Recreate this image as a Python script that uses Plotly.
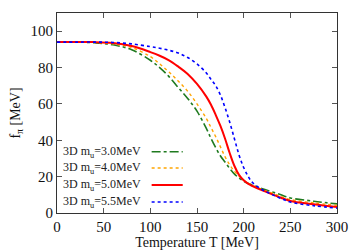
import plotly.graph_objects as go

T = [0, 20, 40, 60, 80, 100, 110, 120, 130, 140, 150, 160, 165, 170, 175, 180, 185, 190, 195, 200, 205, 210, 220, 230, 240, 250, 275, 300]

f_30 = [94, 94, 93.6, 92.5, 89.8, 84.0, 80.0, 75.0, 69.0, 63.0, 56.0, 46.5, 41.0, 36.0, 31.5, 28.0, 24.5, 21.5, 19.3, 17.5, 16.2, 15.3, 13.4, 11.7, 10.0, 8.3, 6.5, 5.0]
f_40 = [94, 94, 93.8, 93.0, 91.0, 86.0, 82.0, 77.5, 72.5, 67.0, 60.0, 52.0, 47.0, 42.0, 36.5, 31.0, 26.5, 23.0, 20.3, 18.0, 16.3, 15.0, 12.9, 11.0, 9.1, 7.4, 5.6, 4.2]
f_50 = [94, 94, 94.0, 93.5, 91.8, 88.5, 86.5, 84.0, 80.5, 76.5, 71.0, 64.0, 59.5, 54.0, 48.0, 41.0, 33.0, 26.0, 21.0, 18.0, 16.0, 14.7, 12.4, 10.4, 8.4, 6.6, 4.8, 3.3]
f_55 = [94, 94, 94.0, 93.8, 93.0, 91.5, 90.6, 89.5, 88.0, 85.5, 82.0, 77.0, 73.5, 70.0, 65.0, 58.0, 50.0, 41.0, 32.0, 25.0, 20.0, 16.5, 12.8, 10.2, 8.0, 6.0, 4.0, 2.7]

labels = ["3D m<sub>u</sub>=3.0MeV", "3D m<sub>u</sub>=4.0MeV", "3D m<sub>u</sub>=5.0MeV", "3D m<sub>u</sub>=5.5MeV"]
series = [f_30, f_40, f_50, f_55]
colors = ["#1f7a1f", "#ffa500", "#ff0000", "#0000ff"]
dashes = ["dashdot", "dot", "solid", "dot"]
widths = [1.6, 1.4, 2.0, 1.6]

FONT = "Liberation Serif"
fig = go.Figure()
for lab, ys, c, d, w in zip(labels, series, colors, dashes, widths):
    fig.add_trace(go.Scatter(x=T, y=ys, mode="lines", name=lab,
                             line=dict(color=c, dash=d, width=w, shape="spline", smoothing=1.0),
                             showlegend=False))

# gnuplot-style legend (text then sample line)
row_y = [0.3065, 0.225, 0.14, 0.055]
for lab, c, d, w, yy in zip(labels, colors, dashes, widths, row_y):
    fig.add_annotation(x=0.307, y=yy, xref="paper", yref="paper", text=lab,
                       showarrow=False, xanchor="right", yanchor="middle",
                       font=dict(family=FONT, size=12, color="#222"))
    fig.add_shape(type="line", xref="paper", yref="paper", x0=0.338, x1=0.449, y0=yy, y1=yy,
                  line=dict(color=c, dash=d, width=w))

axis_common = dict(showline=True, linecolor="#333", linewidth=1, mirror="ticks",
                   ticks="inside", ticklen=5, tickcolor="#555", showgrid=False, zeroline=False,
                   automargin=False,
                   tickfont=dict(family=FONT, size=15, color="#111"))
fig.update_xaxes(range=[0, 300], tick0=0, dtick=50,
                 title=dict(text="Temperature T [MeV]", font=dict(family=FONT, size=14, color="#111"), standoff=2),
                 **axis_common)
fig.update_yaxes(range=[0, 110], tick0=0, dtick=20,
                 title=dict(text="f<sub>π</sub> [MeV]", font=dict(family=FONT, size=14, color="#111"), standoff=10),
                 **axis_common)
# page body adds an 8px offset; compensate so plot area lands at x 57-337, y 13-213
fig.update_layout(width=350, height=243, margin=dict(l=49, r=21, t=5, b=38),
                  plot_bgcolor="white", paper_bgcolor="white")
fig.write_html("out.html")
